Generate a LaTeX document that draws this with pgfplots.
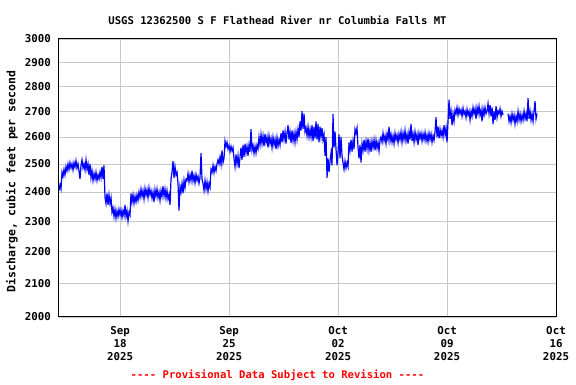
\documentclass[border=0pt]{standalone}
\usepackage{pgfplots}
\pgfplotsset{compat=1.18}
\usepackage{fontspec}
\setmonofont{DejaVu Sans Mono}
\definecolor{gridgray}{RGB}{200,200,200}
\definecolor{usgsblue}{RGB}{0,0,255}
\definecolor{provred}{RGB}{255,0,0}
\begin{document}
\begin{tikzpicture}
\begin{axis}[
  at={(0pt,0pt)}, anchor=south west,
  scale only axis, width=497pt, height=278pt,
  ymode=log, ymin=2000, ymax=3000,
  xmin=-3.918, xmax=28,
  ytick={2000,2100,2200,2300,2400,2500,2600,2700,2800,2900,3000},
  yticklabels={2000,2100,2200,2300,2400,2500,2600,2700,2800,2900,3000},
  xtick={0,7,14,21,28},
  xticklabels={{Sep\\18\\2025},{Sep\\25\\2025},{Oct\\02\\2025},{Oct\\09\\2025},{Oct\\16\\2025}},
  major tick length=0pt, minor tick num=0,
  ymajorgrids, xmajorgrids,
  grid style={gridgray, line width=0.8pt},
  axis line style={black, line width=1pt},
  /pgf/number format/assume math mode=true,
  yticklabel style={font=\fontsize{10.8}{13}\selectfont\ttfamily\bfseries, anchor=east, inner sep=0pt, xshift=-8pt},
  xticklabel style={font=\fontsize{10.8}{13}\selectfont\ttfamily\bfseries, align=center, anchor=north, inner sep=0pt, yshift=-9pt},
  unbounded coords=jump,
  x filter/.expression={(x-120)/15.57},
  clip=true,
]
\addplot[usgsblue, line width=1.2pt] coordinates {
(59,2405) (60,2425) (61,2410) (62,2470) (63,2455) (64,2480) (65,2460) (66,2490)
(67,2475) (68,2500) (69,2480) (70,2505) (71,2485) (72,2500) (73,2478) (74,2505) (75,2488) (76,2512) (77,2485) (78,2500) (79,2475) (80,2445) (81,2495) (82,2515) (83,2485) (84,2500) (85,2478) (86,2515) (87,2480) (88,2500)
(89,2460) (90,2500) (91,2450) (92,2475) (93,2440)
(94,2465) (95,2445) (96,2470) (97,2440) (98,2460) (99,2445) (100,2470) (101,2450) (102,2490) (103,2445) (104,2495)
(105,2380) (106,2360) (107,2395) (108,2355) (109,2390) (110,2360) (111,2380)
(112,2330) (113,2345) (114,2315) (115,2340) (116,2310) (117,2335) (118,2315) (119,2340)
(120,2320) (121,2338) (122,2312) (123,2335) (124,2318) (125,2355) (126,2315) (127,2335) (128,2300) (129,2330) (130,2320)
(131,2395) (132,2365) (133,2390) (134,2360) (135,2385) (136,2365) (137,2390) (138,2370)
(139,2400) (140,2380) (141,2410) (142,2385) (143,2405) (144,2375) (145,2412) (146,2388) (147,2408) (148,2380) (149,2415) (150,2390) (151,2405) (152,2378) (153,2400) (154,2365) (155,2408) (156,2385) (157,2410) (158,2380) (159,2400) (160,2370) (161,2405) (162,2385) (163,2420) (164,2385) (165,2410) (166,2378) (167,2405) (168,2375) (169,2390) (170,2355)
(171,2445) (172,2470) (173,2510) (174,2450) (175,2490) (176,2460)
(177,2470) (178,2430) (179,2335) (180,2420) (181,2400) (182,2430) (183,2395) (184,2440) (185,2415) (186,2445)
(187,2440) (188,2465) (189,2435) (190,2460) (191,2440) (192,2475) (193,2438) (194,2458) (195,2432) (196,2462) (197,2440) (198,2455) (199,2430) (200,2450) (201,2540) (202,2445) (203,2430) (204,2405) (205,2440) (206,2410) (207,2435) (208,2402) (209,2430) (210,2415)
(211,2480) (212,2470) (213,2495) (214,2468) (215,2490) (216,2475) (217,2500)
(218,2515) (219,2500) (220,2525) (221,2498) (222,2550) (223,2505) (224,2520)
(225,2585) (226,2565) (227,2580) (228,2555) (229,2568) (230,2545) (231,2565) (232,2548) (233,2560)
(234,2520) (235,2490) (236,2535) (237,2500) (238,2530) (239,2485) (240,2525)
(241,2560) (242,2515) (243,2570) (244,2525) (245,2575) (246,2540) (247,2565) (248,2530) (249,2570) (250,2545) (251,2630) (252,2550) (253,2568) (254,2538) (255,2565) (256,2540) (257,2570) (258,2555)
(259,2600) (260,2570) (261,2610) (262,2575) (263,2605) (264,2565) (265,2612) (266,2580) (267,2600) (268,2560) (269,2605) (270,2575)
(271,2595) (272,2560) (273,2600) (274,2570) (275,2592) (276,2555) (277,2598) (278,2565) (279,2590) (280,2570)
(281,2615) (282,2580) (283,2625) (284,2590) (285,2620) (286,2575) (287,2615) (288,2645) (289,2590) (290,2620) (291,2578) (292,2625) (293,2585) (294,2615) (295,2580)
(296,2620) (297,2590) (298,2630) (299,2600) (300,2660) (301,2625) (302,2700) (303,2630) (304,2690) (305,2620) (306,2635) (307,2605) (308,2640) (309,2600) (310,2630)
(311,2600) (312,2645) (313,2585) (314,2640) (315,2595) (316,2660) (317,2590) (318,2650) (319,2580) (320,2640) (321,2600) (322,2635) (323,2590)
(324,2610) (325,2530) (326,2600) (327,2450) (328,2520) (329,2470) (330,2510)
(331,2540) (332,2495) (333,2688) (334,2560) (335,2620) (336,2555) (337,2495) (338,2545)
(339,2610) (340,2520) (341,2600) (342,2530) (343,2505) (344,2480) (345,2510) (346,2485) (347,2505) (348,2490)
(349,2580) (350,2550) (351,2590) (352,2545) (353,2585) (354,2555) (355,2630) (356,2615) (357,2635) (358,2560) (359,2520) (360,2570) (361,2505) (362,2575)
(363,2550) (364,2590) (365,2545) (366,2585) (367,2555) (368,2595) (369,2550) (370,2580) (371,2545) (372,2585) (373,2560) (374,2590) (375,2550) (376,2588) (377,2558) (378,2580) (379,2548) (380,2590)
(381,2600) (382,2580) (383,2615) (384,2585) (385,2605) (386,2575) (387,2612) (388,2590) (389,2640) (390,2585) (391,2610) (392,2580) (393,2605) (394,2575) (395,2615) (396,2590) (397,2608) (398,2578) (399,2612) (400,2590)
(401,2620) (402,2580) (403,2615) (404,2590) (405,2625) (406,2585) (407,2610) (408,2575) (409,2618) (410,2590) (411,2650) (412,2585) (413,2612) (414,2580) (415,2620) (416,2590) (417,2610) (418,2570) (419,2615) (420,2595)
(421,2615) (422,2585) (423,2612) (424,2590) (425,2618) (426,2585) (427,2608) (428,2582) (429,2615) (430,2590) (431,2612) (432,2580) (433,2605) (434,2588) (435,2620) (436,2676) (437,2600) (438,2640) (439,2595) (440,2630) (441,2605) (442,2625) (443,2600) (444,2645) (445,2610) (446,2635) (447,2580)
(448,2660) (449,2746) (450,2670) (451,2700) (452,2645) (453,2690) (454,2660) (455,2705)
(456,2690) (457,2715) (458,2685) (459,2710) (460,2690) (461,2705) (462,2680) (463,2712) (464,2688) (465,2700) (466,2675) (467,2708) (468,2685) (469,2700) (470,2665)
(471,2700) (472,2680) (473,2715) (474,2690) (475,2710) (476,2670) (477,2715) (478,2690) (479,2720) (480,2685) (481,2705) (482,2660) (483,2710) (484,2685) (485,2715) (486,2690) (487,2700)
(488,2730) (489,2690) (490,2725) (491,2680) (492,2715) (493,2650) (494,2700) (495,2665) (496,2720) (497,2675) (498,2700)
(499,2690) (500,2710) (501,2680) (502,2700) (503,2685)
(505,nan)
(508,2690) (509,2660) (510,2680) (511,2655) (512,2690) (513,2665) (514,2685) (515,2650) (516,2680) (517,2660) (518,2700) (519,2665) (520,2690) (521,2660) (522,2685) (523,2665) (524,2700) (525,2670) (526,2690) (527,2660) (528,2752) (529,2670) (530,2700) (531,2665) (532,2690) (533,2660) (534,2700) (535,2740) (536,2670) (537,2690)
};
\end{axis}
\node[font=\fontsize{10.6}{13}\selectfont\ttfamily\bfseries, anchor=center] at (218.5pt,297pt) {USGS 12362500 S F Flathead River nr Columbia Falls MT};
\node[font=\fontsize{11.5}{13}\selectfont\ttfamily\bfseries, rotate=90, anchor=center] at (-47pt,135.5pt) {Discharge, cubic feet per second};
\node[font=\fontsize{10.6}{13}\selectfont\ttfamily\bfseries, text=provred, anchor=center] at (218.5pt,-58pt) {---- Provisional Data Subject to Revision ----};
\pgfresetboundingbox
\path[use as bounding box] (-59pt,-67pt) rectangle (517pt,317pt);
\end{tikzpicture}
\end{document}
